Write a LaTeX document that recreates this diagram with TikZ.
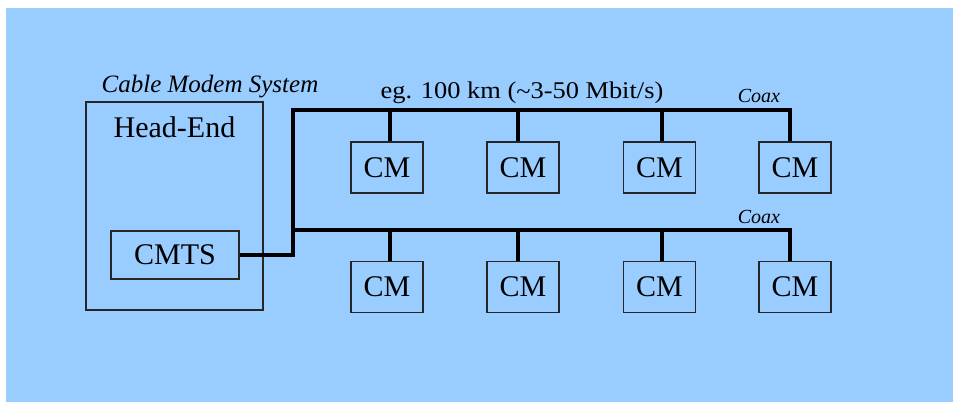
\documentclass[tikz,border=0pt]{standalone}
\usepackage{fontspec}
\setmainfont{Liberation Serif}
\definecolor{bgblue}{HTML}{99CCFF}
\tikzset{
  boxstyle/.style={draw=black!85, line width=1.8pt, inner sep=0pt, font=\fontsize{30}{36}\selectfont},
  cmbox/.style={boxstyle, minimum width=72pt, minimum height=51pt},
  bus/.style={draw=black, line width=3.2pt},
  lbl/.style={inner sep=0pt, anchor=base}
}
\begin{document}
\begin{tikzpicture}[x=1pt,y=-1pt]
\useasboundingbox (0,0) rectangle (953,402);
\fill[bgblue] (6,8) rectangle (953,402);

% head-end box
\node[boxstyle, minimum width=177pt, minimum height=208pt] (he) at (174.5,206) {};
\node[lbl, font=\fontsize{30}{36}\selectfont] (helbl) at (174.5,137) {Head-End};
\node[lbl, font=\fontsize{25}{30}\selectfont\itshape] (cms) at (210,92) {Cable Modem System};
\node[boxstyle, minimum width=128pt, minimum height=48pt] (cmts) at (175,255) {CMTS};

% labels
\node[lbl, font=\fontsize{24}{28}\selectfont] (rate) at (522,98) {\scalebox{1.1}[1]{eg. 100 km ({\raisebox{-0.1ex}{\char`\~}}3-50 Mbit/s)}};
\node[lbl, font=\fontsize{20}{24}\selectfont\itshape] (coax1) at (759,102) {Coax};
\node[lbl, font=\fontsize{20}{24}\selectfont\itshape] (coax2) at (759,223) {Coax};

% cable modems
\foreach \i/\x in {1/387,2/523,3/659.5,4/795}{
  \node[cmbox] (cmt\i) at (\x,167.5) {CM};
  \node[cmbox] (cmb\i) at (\x,287) {CM};
}

% bus coordinates
\coordinate (j0) at (293,255);
\coordinate (jt) at (293,110);
\coordinate (jb) at (293,230);
\coordinate (et) at (790,110);
\coordinate (eb) at (790,230);
\coordinate (dt1) at (390,110);
\coordinate (dt2) at (518,110);
\coordinate (dt3) at (662,110);
\coordinate (db1) at (390,230);
\coordinate (db2) at (518,230);
\coordinate (db3) at (662,230);

\draw[bus] (cmts.east) -- (j0) -- (jt) -- (et) -- (et |- cmt4.north);
\draw[bus] (jb) -- (eb) -- (eb |- cmb4.north);
\foreach \i in {1,2,3}{
  \draw[bus] (dt\i) -- (dt\i |- cmt\i.north);
  \draw[bus] (db\i) -- (db\i |- cmb\i.north);
}
\end{tikzpicture}
\end{document}
